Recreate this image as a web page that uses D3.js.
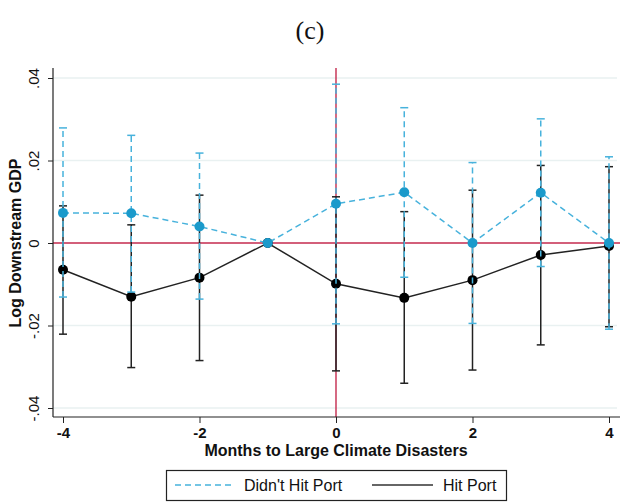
<!DOCTYPE html>
<html><head><meta charset="utf-8">
<script src="https://cdn.jsdelivr.net/npm/d3@7"></script>
<style>body{margin:0;background:#fff}svg{display:block}</style>
</head><body>
<script>
const months = [-4,-3,-2,-1,0,1,2,3,4];
const notHitEst = [0.0073,0.0072,0.0040,0,0.0095,0.0123,0,0.0122,0];
const notHitLo  = [-0.0131,-0.0119,-0.0136,0,-0.0196,-0.0083,-0.0195,-0.0057,-0.0209];
const notHitHi  = [0.0279,0.0261,0.0218,0,0.0385,0.0328,0.0195,0.0301,0.0209];
const hitEst = [-0.0065,-0.0130,-0.0084,0,-0.0099,-0.0133,-0.0090,-0.0029,-0.0007];
const hitLo  = [-0.0221,-0.0302,-0.0285,0,-0.0310,-0.0340,-0.0308,-0.0247,-0.0203];
const hitHi  = [0.0090,0.0044,0.0116,0,0.0112,0.0076,0.0128,0.0188,0.0185];
const yTicks = [-0.04,-0.02,0,0.02,0.04];
const yTickLabels = ["-.04","-.02","0",".02",".04"];
const xTicks = [-4,-2,0,2,4];
const seriesNames = ["Didn't Hit Port","Hit Port"];

(function(){
const W=620,H=502;
const svg=d3.select("body").append("svg").attr("width",W).attr("height",H);
const x=d3.scaleLinear().domain([-4,4]).range([63,609]);
const y=d3.scaleLinear().domain([-0.04,0.04]).range([408,78]);
const pLeft=53,pBottom=417,pTop=68,pRight=620;
const blue="#1b9acb", blueLine="#47b2dc", red="#c42a4e";
const sans="Liberation Sans, Arial, sans-serif";

svg.append("text").attr("x",310).attr("y",39).attr("text-anchor","middle")
  .attr("font-family","Liberation Serif, serif").attr("font-size",26).attr("fill","#111").text("(c)");

// grid
svg.append("g").selectAll("line").data(yTicks.filter(d=>d!==0)).join("line")
  .attr("x1",pLeft).attr("x2",617).attr("y1",d=>y(d)).attr("y2",d=>y(d))
  .attr("stroke","#e9f1f1").attr("stroke-width",1.3);

// reference lines
svg.append("line").attr("x1",pLeft).attr("x2",pRight).attr("y1",y(0)).attr("y2",y(0))
  .attr("stroke",red).attr("stroke-width",1.4);
svg.append("line").attr("x1",x(0)).attr("x2",x(0)).attr("y1",pTop).attr("y2",pBottom)
  .attr("stroke",red).attr("stroke-width",1.4);

// axes
const yAxis=d3.axisLeft(y).tickValues(yTicks).tickFormat((d,i)=>yTickLabels[i]).tickSize(5);
const gy=svg.append("g").attr("transform",`translate(${pLeft},0)`).call(yAxis);
gy.select(".domain").attr("d",`M0,${pTop}V${pBottom}`).attr("stroke","#222").attr("stroke-width",1.2);
gy.selectAll(".tick line").attr("stroke","#222");
gy.selectAll(".tick text").attr("transform","rotate(-90)").attr("x",0).attr("y",-14).attr("dy","0")
  .attr("text-anchor","middle").attr("font-family",sans).attr("font-size",15).attr("fill","#111");

const xAxis=d3.axisBottom(x).tickValues(xTicks).tickFormat(d3.format("d")).tickSize(6).tickPadding(4);
const gx=svg.append("g").attr("transform",`translate(0,${pBottom})`).call(xAxis);
gx.select(".domain").attr("d",`M${pLeft},0H${pRight}`).attr("stroke","#222").attr("stroke-width",1.2);
gx.selectAll(".tick line").attr("stroke","#222");
gx.selectAll(".tick text").attr("font-family",sans).attr("font-size",15)
  .attr("font-weight","bold").attr("fill","#111").text(d=>d<0?"-"+Math.abs(d):d);

svg.append("text").attr("x",x(0)).attr("y",456).attr("text-anchor","middle")
  .attr("font-family",sans).attr("font-weight","bold").attr("font-size",16)
  .attr("fill","#111").text("Months to Large Climate Disasters");
svg.append("text").attr("transform",`translate(21,${y(0)}) rotate(-90)`).attr("text-anchor","middle")
  .attr("font-family",sans).attr("font-weight","bold").attr("font-size",16)
  .attr("fill","#111").text("Log Downstream GDP");

function drawSeries(est,lo,hi,lineColor,ciColor,dotColor,dash){
  const g=svg.append("g");
  const idx=months.map((m,i)=>i).filter(i=>!(lo[i]===0&&hi[i]===0));
  g.selectAll(".ci").data(idx).join("line").attr("x1",i=>x(months[i])).attr("x2",i=>x(months[i]))
    .attr("y1",i=>y(lo[i])).attr("y2",i=>y(hi[i])).attr("stroke",ciColor).attr("stroke-width",1.5)
    .attr("stroke-dasharray",dash);
  [lo,hi].forEach(arr=>{
    g.append("g").selectAll("line").data(idx).join("line").attr("x1",i=>x(months[i])-4).attr("x2",i=>x(months[i])+4)
      .attr("y1",i=>y(arr[i])).attr("y2",i=>y(arr[i])).attr("stroke",ciColor).attr("stroke-width",1.5);
  });
  const line=d3.line().x((d,i)=>x(months[i])).y(d=>y(d));
  g.append("path").attr("d",line(est)).attr("fill","none").attr("stroke",lineColor).attr("stroke-width",1.5)
    .attr("stroke-dasharray",dash);
  g.append("g").selectAll("circle").data(est).join("circle").attr("cx",(d,i)=>x(months[i])).attr("cy",d=>y(d))
    .attr("r",5).attr("fill",dotColor);
}
drawSeries(hitEst,hitLo,hitHi,"#222","#222","#000",null);
drawSeries(notHitEst,notHitLo,notHitHi,blueLine,blueLine,blue,"6,4");

// legend
const lg=svg.append("g");
lg.append("rect").attr("x",166.5).attr("y",470.5).attr("width",340).attr("height",30)
  .attr("fill","#fff").attr("stroke","#222").attr("stroke-width",1.2);
lg.append("line").attr("x1",175).attr("x2",235).attr("y1",485).attr("y2",485)
  .attr("stroke",blueLine).attr("stroke-width",1.5).attr("stroke-dasharray","6,4");
lg.append("text").attr("x",244).attr("y",491).attr("font-family",sans)
  .attr("font-size",16).attr("fill","#111").text(seriesNames[0]);
lg.append("line").attr("x1",372).attr("x2",433).attr("y1",485).attr("y2",485)
  .attr("stroke","#333").attr("stroke-width",1.5);
lg.append("text").attr("x",443).attr("y",491).attr("font-family",sans)
  .attr("font-size",16).attr("fill","#111").text(seriesNames[1]);
})();
</script>
</body></html>
